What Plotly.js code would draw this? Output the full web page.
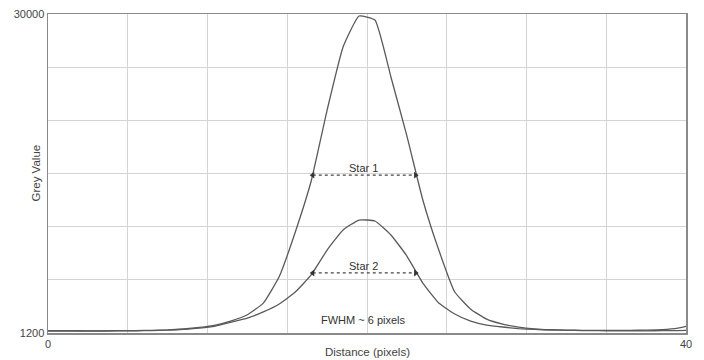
<!DOCTYPE html>
<html>
<head>
<meta charset="utf-8">
<script src="https://cdn.plot.ly/plotly-3.0.1.min.js"></script>
<style>html,body{margin:0;padding:0;background:#fff;}#chart{width:704px;height:360px;}</style>
</head>
<body>
<div id="chart"></div>
<script>
var distance = [0, 0.5, 1.5, 2.5, 3.5, 4.5, 5.5, 6.5, 7.5, 8.5, 9.5, 10.5, 11.5, 12.5, 13.5, 14.5, 15.5, 16.5, 17.5, 18.5, 19.5,
  20.5, 21.5, 22.5, 23.5, 24.5, 25.5, 26.5, 27.5, 28.5, 29.5, 30.5, 31.5, 32.5, 33.5, 34.5, 35.5, 36.5, 37.5, 38.5, 39.5, 40];
var star1 = [1420, 1420, 1410, 1400, 1400, 1410, 1420, 1440, 1480, 1560, 1700, 1920, 2300, 2850, 3900, 6300, 10300, 14920, 21330, 27020, 29820,
  29460, 24310, 18990, 13210, 8690, 4900, 3350, 2450, 2000, 1740, 1580, 1500, 1460, 1440, 1430, 1430, 1440, 1460, 1500, 1640, 1800];
var star2 = [1380, 1380, 1380, 1380, 1380, 1390, 1400, 1420, 1460, 1530, 1640, 1830, 2190, 2550, 3100, 3820, 4900, 6440, 8690, 10500, 11400,
  11310, 10050, 8150, 5710, 3910, 2920, 2280, 1920, 1740, 1600, 1520, 1470, 1440, 1420, 1410, 1400, 1400, 1400, 1410, 1420, 1430];

var xTickVals = [0, 5, 10, 15, 20, 25, 30, 35, 40];
var xTickText = ['0', '', '', '', '', '', '', '', '40'];
var yTickVals = [1200, 6000, 10800, 15600, 20400, 25200, 30000];
var yTickText = ['1200', '', '', '', '', '', '30000'];

var fwhmX = [16.6, 23.05];
var star1HalfY = [15450, 15450];
var star2HalfY = [6620, 6620];
var labels = ['Star 1', 'Star 2', 'FWHM ~ 6 pixels'];

var lineColor = '#5a5a5a';
var traces = [
  {x: distance, y: star1, mode: 'lines', line: {color: lineColor, width: 1.3, shape: 'spline', smoothing: 0.4}, hoverinfo: 'skip'},
  {x: distance, y: star2, mode: 'lines', line: {color: lineColor, width: 1.3, shape: 'spline', smoothing: 0.4}, hoverinfo: 'skip'},
  {x: fwhmX, y: star1HalfY, mode: 'lines+markers', line: {color: '#444', width: 1.2, dash: 'dot'},
   marker: {symbol: ['triangle-left', 'triangle-right'], size: 6, color: '#333'}, hoverinfo: 'skip'},
  {x: fwhmX, y: star2HalfY, mode: 'lines+markers', line: {color: '#444', width: 1.2, dash: 'dot'},
   marker: {symbol: ['triangle-left', 'triangle-right'], size: 6, color: '#333'}, hoverinfo: 'skip'}
];

var fam = 'Liberation Sans, Arial, sans-serif';
var layout = {
  width: 704, height: 360,
  margin: {l: 48, r: 18, t: 14, b: 27},
  paper_bgcolor: '#fff', plot_bgcolor: '#fff',
  showlegend: false,
  font: {family: fam, size: 11, color: '#444'},
  xaxis: {
    range: [0, 40], tickmode: 'array', tickvals: xTickVals, ticktext: xTickText,
    showgrid: true, gridcolor: '#d4d4d4', gridwidth: 1, zeroline: false,
    showline: true, linecolor: '#8a8a8a', linewidth: 1.5, mirror: true, ticks: '',
    tickfont: {family: fam, size: 11, color: '#444'}
  },
  yaxis: {
    range: [1200, 30000], tickmode: 'array', tickvals: yTickVals, ticktext: yTickText,
    showgrid: true, gridcolor: '#d4d4d4', gridwidth: 1, zeroline: false,
    showline: true, linecolor: '#8a8a8a', linewidth: 1.5, mirror: true, ticks: '',
    tickfont: {family: fam, size: 11, color: '#444'}
  },
  annotations: [
    {x: 19.8, y: star1HalfY[0], xref: 'x', yref: 'y', text: labels[0], showarrow: false, yshift: 7, font: {family: fam, size: 11, color: '#333'}},
    {x: 19.8, y: star2HalfY[0], xref: 'x', yref: 'y', text: labels[1], showarrow: false, yshift: 7, font: {family: fam, size: 11, color: '#333'}},
    {x: 19.8, y: 2350, xref: 'x', yref: 'y', text: labels[2], showarrow: false, font: {family: fam, size: 11, color: '#333'}},
    {x: 0.5, y: 0, xref: 'paper', yref: 'paper', xanchor: 'center', yanchor: 'middle', yshift: -19, text: 'Distance (pixels)', showarrow: false, font: {family: fam, size: 11.5, color: '#444'}},
    {x: 0, y: 0.5, xref: 'paper', yref: 'paper', xanchor: 'center', yanchor: 'middle', xshift: -13, text: 'Grey Value', textangle: -90, showarrow: false, font: {family: fam, size: 11.5, color: '#444'}}
  ]
};
Plotly.newPlot('chart', traces, layout, {staticPlot: true, displayModeBar: false});
</script>
</body>
</html>
